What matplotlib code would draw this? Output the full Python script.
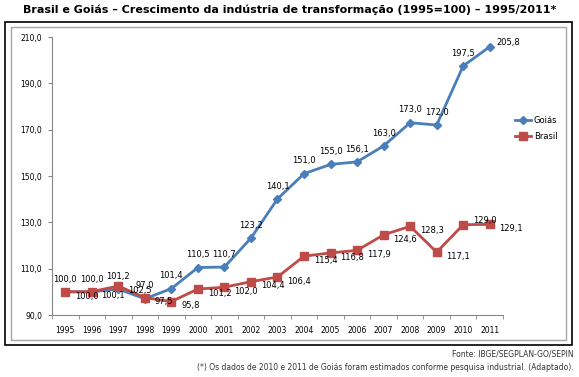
import matplotlib.pyplot as plt
from matplotlib.patches import Rectangle

years = ["1995", "1996", "1997", "1998", "1999", "2000", "2001", "2002", "2003",
         "2004", "2005", "2006", "2007", "2008", "2009", "2010", "2011"]
goias = [100.0, 100.0, 101.2, 97.0, 101.4, 110.5, 110.7, 123.2, 140.1,
         151.0, 155.0, 156.1, 163.0, 173.0, 172.0, 197.5, 205.8]
brasil = [100.0, 100.1, 102.5, 97.5, 95.8, 101.2, 102.0, 104.4, 106.4,
          115.4, 116.8, 117.9, 124.6, 128.3, 117.1, 129.0, 129.1]
y_ticks = [90, 110, 130, 150, 170, 190, 210]

title = "Brasil e Goiás – Crescimento da indústria de transformação (1995=100) – 1995/2011*"
source = "Fonte: IBGE/SEGPLAN-GO/SEPIN"
note = "(*) Os dados de 2010 e 2011 de Goiás foram estimados conforme pesquisa industrial. (Adaptado)."

BLUE = "#4A7EBB"
RED = "#BE4B48"
GRAY = "#868686"


def fmt(v):
    return f"{v:.1f}".replace(".", ",")


fig = plt.figure(figsize=(5.79, 3.77), dpi=100)
fig.patch.set_facecolor("white")

# outer black frame and inner gray chart area
fig.add_artist(Rectangle((5 / 579, 1 - 345 / 377), 567 / 579, 323 / 377,
                         transform=fig.transFigure, fill=False, ec="black", lw=1.2))
fig.add_artist(Rectangle((11 / 579, 1 - 340 / 377), 555 / 579, 313 / 377,
                         transform=fig.transFigure, fill=False, ec="#A6A6A6", lw=1.0))

ax = fig.add_axes([52 / 579, 1 - 315 / 377, 451 / 579, 278 / 377])
x = list(range(len(years)))

ax.plot(x, goias, color=BLUE, lw=2, marker="D", ms=4.5, label="Goiás", zorder=3)
ax.plot(x, brasil, color=RED, lw=2, marker="s", ms=6, label="Brasil", zorder=3)

# Goiás labels sit above the points, the last one to the right
for i, v in enumerate(goias):
    if i == len(goias) - 1:
        ax.annotate(fmt(v), (i, v), xytext=(5, 3), textcoords="offset points",
                    fontsize=6, ha="left", va="center")
    else:
        ax.annotate(fmt(v), (i, v), xytext=(0, 6), textcoords="offset points",
                    fontsize=6, ha="center", va="bottom")
# Brasil labels sit to the right, a bit below
for i, v in enumerate(brasil):
    dy = 3 if i == len(brasil) - 2 else -3
    ax.annotate(fmt(v), (i, v), xytext=(7, dy), textcoords="offset points",
                fontsize=6, ha="left", va="center")

ax.set_xlim(-0.5, len(years) - 0.5)
ax.set_ylim(90, 210)
ax.set_yticks(y_ticks)
ax.set_yticklabels([fmt(v) for v in y_ticks], fontsize=5.5)
ax.set_xticks(x)
ax.set_xticklabels(years, fontsize=5.5)
ax.set_xticks([i - 0.5 for i in range(len(years) + 1)], minor=True)
ax.tick_params(axis="x", which="major", length=0, pad=8)
ax.tick_params(axis="x", which="minor", length=3, color=GRAY)
ax.tick_params(axis="y", length=3, color=GRAY, pad=4)
for side in ["top", "right"]:
    ax.spines[side].set_visible(False)
for side in ["left", "bottom"]:
    ax.spines[side].set_color(GRAY)

fig.legend(loc="upper left", bbox_to_anchor=(507 / 579, 1 - 108 / 377),
           frameon=False, fontsize=6, handlelength=2.0, handletextpad=0.3,
           labelspacing=0.9)

fig.text(0.5, 1 - 10 / 377, title, ha="center", va="center",
         fontsize=8, fontweight="bold")
fig.text(574 / 579, 1 - 354 / 377, source, ha="right", va="center",
         fontsize=5.5, color="#333333")
fig.text(574 / 579, 1 - 367 / 377, note, ha="right", va="center",
         fontsize=5.5, color="#333333")

fig.savefig("out.png", dpi=100)
